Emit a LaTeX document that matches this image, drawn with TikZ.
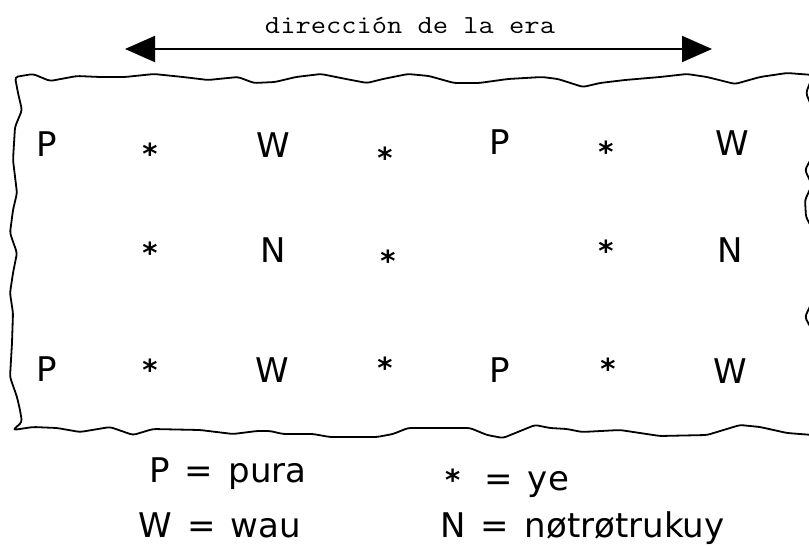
\documentclass[tikz,border=0pt]{standalone}
\usepackage{fontspec}
\usepackage{graphicx}
\usetikzlibrary{arrows.meta}
\newfontfamily\lucida{DejaVu Sans}
\newcommand{\eraFont}{\ttfamily\fontsize{26}{30}\selectfont}
\newcommand{\symFont}{\lucida\fontsize{34}{40}\selectfont}
\newcommand{\starFont}{\lucida\bfseries\fontsize{29}{34}\selectfont}
\newcommand{\eq}{\hspace{0.45em}=\hspace{0.45em}}

\begin{document}
\begin{tikzpicture}[x=1pt,y=-1pt,
    sym/.style={font=\symFont, inner sep=0},
    ye/.style={font=\starFont, inner sep=0, yshift=-6pt},
    legend/.style={font=\symFont, inner sep=0, anchor=base west}]
    \useasboundingbox (0,0) rectangle (809,546);

    % Direction of the era
    \coordinate (eraL) at (125,49);
    \coordinate (eraR) at (712,49);
    \draw[line width=2pt, {Triangle[length=30pt,width=26pt]}-{Triangle[length=30pt,width=26pt]}] (eraL) -- (eraR);
    \node[font=\eraFont, anchor=base, inner sep=0] (era) at (410,33) {\scalebox{1.14}[1]{dirección de la era}};

    % Wavy border
    \draw[line width=1.8pt, rounded corners=3pt, line join=round]
      (15,77) -- (33,74) -- (50,81) -- (77,76) -- (100,77) -- (125,77) -- (154,74)
      -- (183,77) -- (208,80) -- (238,77) -- (254,83) -- (275,82) -- (296,77)
      -- (321,74) -- (346,79) -- (367,83) -- (383,79) -- (408,74) -- (429,76)
      -- (454,83) -- (479,83) -- (508,79) -- (542,77) -- (558,79) -- (583,87)
      -- (600,83) -- (625,80) -- (660,77) -- (687,74) -- (707,77) -- (735,84)
      -- (760,77) -- (787,73) -- (813,75)
      -- (806,93) -- (813,110) -- (813,155) -- (805,170) -- (812,185) -- (805,200)
      -- (806,217) -- (813,230) -- (813,300) -- (805,317) -- (813,332) -- (813,435)
      -- (787,433) -- (760,427) -- (740,425) -- (707,435) -- (660,436) -- (620,430)
      -- (582,432) -- (567,429) -- (550,428) -- (535,425) -- (503,438) -- (487,435)
      -- (470,428) -- (408,428) -- (393,434) -- (377,437) -- (330,437) -- (313,434)
      -- (283,434) -- (270,431) -- (257,431) -- (233,434) -- (200,430) -- (153,429)
      -- (133,435) -- (110,427) -- (80,432) -- (57,428) -- (33,427) -- (13,430)
      -- (22,422) -- (20,410) -- (17,397) -- (10,377) -- (12,343) -- (13,313)
      -- (10,293) -- (13,273) -- (17,253) -- (10,233) -- (13,210) -- (17,193)
      -- (13,160) -- (15,127) -- (22,110) -- (18,93) -- cycle;

    % Letters
    \foreach \n/\x/\y/\t in {p1/47/144/P, w1/273/145/W, p2/500/142/P, w2/732/143/W,
                             n1/273/250/N, n2/730/250/N,
                             p3/47/369/P, w3/272/370/W, p4/500/370/P, w4/730/371/W}
      \node[sym] (\n) at (\x,\y) {\t};

    % Stars
    \foreach \n/\x/\y in {y1/150/148, y2/385/152, y3/606/146,
                          y4/150/247, y5/388/255, y6/606/245,
                          y7/150/364, y8/385/362, y9/608/363}
      \node[ye] (\n) at (\x,\y) {*};

    % Legend
    \node[legend] (lp) at (149,482) {P\eq pura};
    \node[legend] (lw) at (138,537) {W\eq wau};
    \node[legend] (ly) at (445,490) {{\starFont *}\hspace{0.25em}\eq ye};
    \node[legend] (ln) at (440,537) {N\eq nøtrøtrukuy};
\end{tikzpicture}
\end{document}
